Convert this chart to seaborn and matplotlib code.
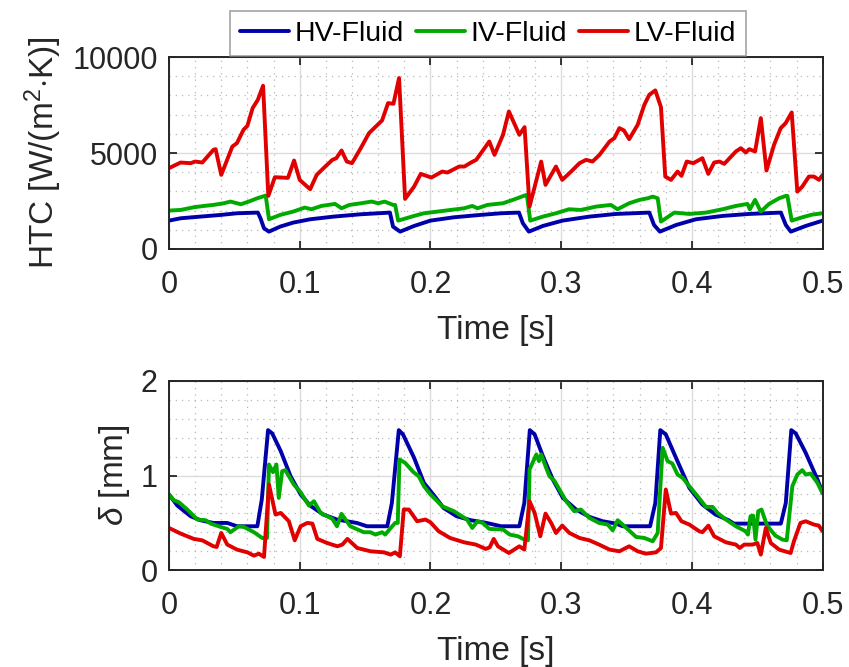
import numpy as np
import pandas as pd
import matplotlib
matplotlib.use("Agg")
import matplotlib.pyplot as plt
from matplotlib.ticker import MultipleLocator
import seaborn as sns

# ---------------- data ----------------
series_names = ["HV-Fluid", "IV-Fluid", "LV-Fluid"]
series_colors = ["#0000AA", "#00AA00", "#E00000"]

# Top panel: HTC [W/(m^2 K)]
htc_hv_t = [0, 0.009, 0.024, 0.0395, 0.052, 0.068, 0.070, 0.0727, 0.0765, 0.085, 0.095, 0.108, 0.126,
            0.1467, 0.169, 0.1714, 0.1768, 0.1875, 0.200, 0.218, 0.238, 0.254, 0.2677, 0.2707, 0.2753,
            0.286, 0.301, 0.3216, 0.342, 0.3674, 0.371, 0.3755, 0.388, 0.403, 0.4234, 0.4438, 0.468,
            0.4718, 0.4756, 0.487, 0.5]
htc_hv_v = [1478, 1600, 1687, 1774, 1861, 1896, 1600, 1078, 904, 1165, 1374, 1548, 1687,
            1809, 1896, 1165, 904, 1200, 1478, 1652, 1774, 1861, 1896, 1339, 904,
            1200, 1478, 1687, 1826, 1896, 1252, 904, 1252, 1548, 1722, 1826, 1896,
            1252, 904, 1200, 1478]

htc_iv_t = [0, 0.009, 0.019, 0.0268, 0.034, 0.042, 0.047, 0.055, 0.061, 0.0676, 0.074, 0.0765, 0.085,
            0.095, 0.1038, 0.109, 0.1166, 0.127, 0.132, 0.138, 0.147, 0.155, 0.160, 0.165, 0.1714,
            0.173, 0.1753, 0.1875, 0.195, 0.2054, 0.2156, 0.2258, 0.232, 0.236, 0.2436, 0.2555, 0.263,
            0.272, 0.2738, 0.2763, 0.286, 0.296, 0.306, 0.315, 0.3267, 0.338, 0.343, 0.352, 0.3598,
            0.3662, 0.370, 0.3738, 0.3763, 0.3865, 0.398, 0.4107, 0.4234, 0.4336, 0.4425, 0.4443,
            0.4483, 0.4527, 0.459, 0.4667, 0.4718, 0.473, 0.4763, 0.4844, 0.492, 0.5]
htc_iv_v = [2000, 2035, 2174, 2243, 2296, 2383, 2470, 2330, 2470, 2643, 2783, 1548, 1774,
            1948, 2157, 2070, 2243, 2348, 2122, 2296, 2383, 2470, 2383, 2470, 2296,
            2296, 1478, 1722, 1861, 1948, 2035, 2122, 2243, 2122, 2296, 2383, 2557,
            2783, 2817, 1478, 1687, 1861, 2070, 2035, 2209, 2296, 2070, 2383, 2557,
            2643, 2730, 2643, 1426, 1896, 1826, 1896, 2070, 2243, 2348, 2070,
            2557, 1948, 2348, 2643, 2765, 2765, 1478, 1652, 1791, 1861]

htc_lv_t = [0, 0.0089, 0.0166, 0.020, 0.0255, 0.034, 0.0357, 0.040, 0.0485, 0.052, 0.057, 0.060, 0.064,
            0.068, 0.072, 0.076, 0.081, 0.091, 0.0957, 0.100, 0.108, 0.113, 0.119, 0.125, 0.128,
            0.132, 0.136, 0.140, 0.1467, 0.153, 0.163, 0.1676, 0.1717, 0.176, 0.1806, 0.1875, 0.1926,
            0.2007, 0.209, 0.213, 0.222, 0.226, 0.231, 0.235, 0.245, 0.249, 0.2555, 0.260, 0.268,
            0.272, 0.2758, 0.2847, 0.288, 0.296, 0.3008, 0.3076, 0.314, 0.319, 0.324, 0.3293, 0.337,
            0.3407, 0.3445, 0.348, 0.352, 0.3585, 0.3636, 0.3674, 0.372, 0.3763, 0.3796, 0.384, 0.389,
            0.392, 0.396, 0.401, 0.408, 0.4125, 0.417, 0.421, 0.4247, 0.4336, 0.4374, 0.4412, 0.4438,
            0.4483, 0.4527, 0.457, 0.4628, 0.4679, 0.4717, 0.4763, 0.4806, 0.4844, 0.4895, 0.4933,
            0.4972, 0.5]
htc_lv_v = [4209, 4504, 4470, 4556, 4504, 5165, 5200, 3861, 5339, 5513, 6209, 6417, 7339,
            7774, 8504, 2765, 3739, 3704, 4609, 3600, 3113, 3861, 4261, 4643, 4730,
            5130, 4556, 4470, 5252, 6035, 6696, 7600, 7565, 8904, 2609, 3252, 3913,
            3722, 4035, 3983, 4296, 4296, 4504, 4643, 5600, 4904, 5948, 7165, 5948,
            6348, 2209, 4556, 3339, 4296, 3600, 4035, 4470, 4643, 4556, 4904, 5600,
            5774, 6296, 6174, 5722, 6470, 7513, 8035, 8261, 7391, 3774, 3600, 4035,
            3809, 4556, 4470, 4730, 3913, 4504, 4556, 4435, 5078, 5252, 5026, 5200,
            5078, 6817, 4087, 5426, 6296, 6557, 7113, 2991, 3252, 3774, 3774,
            3600, 3861]

# Bottom panel: film thickness delta [mm]
del_hv_t = [0, 0.0064, 0.0166, 0.024, 0.034, 0.0446, 0.052, 0.0676, 0.071, 0.0758, 0.079, 0.0855, 0.093,
            0.1007, 0.108, 0.118, 0.1285, 0.1437, 0.1514, 0.167, 0.1705, 0.1758, 0.179, 0.1875, 0.195,
            0.2028, 0.21, 0.22, 0.2309, 0.243, 0.254, 0.268, 0.2718, 0.276, 0.2797, 0.286, 0.2936,
            0.3013, 0.3114, 0.3216, 0.3318, 0.342, 0.347, 0.368, 0.372, 0.3758, 0.380, 0.3878, 0.398,
            0.408, 0.418, 0.428, 0.432, 0.468, 0.4718, 0.476, 0.4794, 0.487, 0.496, 0.5]
del_hv_v = [0.80, 0.682, 0.569, 0.527, 0.498, 0.498, 0.463, 0.463, 0.746, 1.48, 1.445, 1.258, 0.993,
            0.80, 0.682, 0.587, 0.534, 0.498, 0.463, 0.463, 0.71, 1.48, 1.435, 1.187, 0.922,
            0.788, 0.657, 0.569, 0.527, 0.498, 0.463, 0.463, 0.71, 1.48, 1.435, 1.205, 0.958,
            0.763, 0.64, 0.562, 0.516, 0.491, 0.463, 0.463, 0.71, 1.48, 1.435, 1.187, 0.869,
            0.693, 0.587, 0.527, 0.491, 0.491, 0.71, 1.48, 1.445, 1.24, 0.958, 0.816]

del_iv_t = [0, 0.0038, 0.0076, 0.014, 0.0217, 0.028, 0.032, 0.0395, 0.0446, 0.047, 0.0535, 0.0573, 0.065,
            0.0713, 0.075, 0.0765, 0.0796, 0.0822, 0.084, 0.0866, 0.089, 0.0955, 0.1007, 0.107, 0.1109,
            0.116, 0.125, 0.1285, 0.132, 0.1387, 0.149, 0.154, 0.158, 0.163, 0.1654, 0.169, 0.173,
            0.175, 0.1763, 0.1806, 0.187, 0.191, 0.195, 0.200, 0.209, 0.218, 0.228, 0.232, 0.236,
            0.24, 0.245, 0.2555, 0.2606, 0.267, 0.2708, 0.2746, 0.2758, 0.281, 0.283, 0.2847, 0.2885,
            0.291, 0.295, 0.3038, 0.310, 0.315, 0.3216, 0.329, 0.3356, 0.3394, 0.3432, 0.347, 0.3573,
            0.3636, 0.370, 0.3738, 0.3776, 0.3814, 0.385, 0.389, 0.3929, 0.398, 0.4043, 0.4107, 0.4158,
            0.4196, 0.426, 0.4336, 0.441, 0.4428, 0.4448, 0.4468, 0.4486, 0.4507, 0.4532, 0.4575,
            0.4638, 0.4692, 0.4725, 0.4768, 0.4806, 0.4844, 0.487, 0.4908, 0.496, 0.5]
del_iv_v = [0.80, 0.739, 0.717, 0.64, 0.534, 0.527, 0.491, 0.456, 0.435, 0.40, 0.463, 0.456, 0.40,
            0.339, 0.339, 1.117, 1.035, 1.117, 0.763, 1.046, 1.057, 0.905, 0.823, 0.682, 0.728,
            0.604, 0.541, 0.463, 0.594, 0.463, 0.40, 0.40, 0.375, 0.40, 0.375, 0.435, 0.498,
            0.498, 1.17, 1.134, 1.035, 0.993, 0.887, 0.80, 0.675, 0.622, 0.534, 0.445, 0.516,
            0.498, 0.435, 0.428, 0.375, 0.357, 0.329, 0.314, 1.064, 1.223, 1.152, 1.223, 1.081,
            0.993, 0.94, 0.728, 0.622, 0.64, 0.551, 0.498, 0.481, 0.42, 0.527, 0.481, 0.35,
            0.339, 0.304, 0.392, 1.293, 1.152, 1.127, 1.01, 0.975, 0.887, 0.781, 0.668, 0.668,
            0.604, 0.534, 0.463, 0.41, 0.375, 0.569, 0.576, 0.322, 0.622, 0.64, 0.47,
            0.364, 0.322, 0.314, 0.887, 1.01, 1.057, 1.01, 1.021, 0.922, 0.809]

del_lv_t = [0, 0.009, 0.019, 0.0255, 0.034, 0.0365, 0.040, 0.0446, 0.052, 0.060, 0.065, 0.0688, 0.0727,
            0.0765, 0.0815, 0.0855, 0.0917, 0.0962, 0.1007, 0.1058, 0.1097, 0.1135, 0.121, 0.1288,
            0.1326, 0.1365, 0.144, 0.1543, 0.1645, 0.1696, 0.173, 0.1766, 0.1796, 0.1835, 0.1898,
            0.1962, 0.200, 0.2063, 0.215, 0.2258, 0.2347, 0.2423, 0.2453, 0.2484, 0.2516, 0.26, 0.268,
            0.2718, 0.2758, 0.2797, 0.284, 0.288, 0.2926, 0.296, 0.3008, 0.3063, 0.314, 0.3216, 0.329,
            0.337, 0.3445, 0.352, 0.3585, 0.3648, 0.3725, 0.3763, 0.380, 0.384, 0.3878, 0.392, 0.398,
            0.4056, 0.408, 0.4126, 0.417, 0.426, 0.4336, 0.4366, 0.44, 0.4463, 0.45, 0.4527, 0.4565,
            0.4603, 0.4667, 0.4755, 0.478, 0.483, 0.487, 0.4933, 0.497, 0.5]
del_lv_v = [0.445, 0.385, 0.329, 0.314, 0.251, 0.244, 0.392, 0.269, 0.216, 0.187, 0.152, 0.173, 0.138,
            0.905, 0.587, 0.604, 0.516, 0.314, 0.463, 0.498, 0.491, 0.329, 0.286, 0.251,
            0.269, 0.329, 0.233, 0.198, 0.187, 0.163, 0.187, 0.145, 0.64, 0.64, 0.516,
            0.534, 0.505, 0.41, 0.339, 0.293, 0.269, 0.223, 0.24, 0.329, 0.251, 0.18, 0.251,
            0.216, 0.728, 0.604, 0.357, 0.597, 0.491, 0.392, 0.47, 0.392, 0.339, 0.314, 0.269,
            0.216, 0.198, 0.251, 0.198, 0.173, 0.187, 0.233, 0.852, 0.597, 0.604, 0.516, 0.481,
            0.41, 0.40, 0.47, 0.357, 0.293, 0.269, 0.233, 0.269, 0.269, 0.286, 0.163, 0.445,
            0.286, 0.216, 0.18, 0.304, 0.498, 0.516, 0.481, 0.47, 0.41]

xticks = [0, 0.1, 0.2, 0.3, 0.4, 0.5]
htc_yticks = [0, 5000, 10000]
del_yticks = [0, 1, 2]

# ---------------- style ----------------
sns.set_style("ticks")
plt.rcParams["font.family"] = ["Liberation Sans", "DejaVu Sans"]
plt.rcParams["mathtext.fontset"] = "custom"
plt.rcParams["mathtext.rm"] = "Liberation Sans"
plt.rcParams["mathtext.it"] = "Liberation Sans:italic"
plt.rcParams["axes.unicode_minus"] = False

fig = plt.figure(figsize=(8.49, 6.67), dpi=100)
ax1 = fig.add_axes([0.199, 0.6267, 0.770, 0.2878])
ax2 = fig.add_axes([0.199, 0.1454, 0.770, 0.2834])

top_data = [(htc_hv_t, htc_hv_v), (htc_iv_t, htc_iv_v), (htc_lv_t, htc_lv_v)]
bot_data = [(del_hv_t, del_hv_v), (del_iv_t, del_iv_v), (del_lv_t, del_lv_v)]

for (t, v), name, c in zip(top_data, series_names, series_colors):
    df = pd.DataFrame({"t": t, "v": v})
    sns.lineplot(data=df, x="t", y="v", ax=ax1, color=c, lw=2.8, label=name,
                 estimator=None, sort=False)
for (t, v), name, c in zip(bot_data, series_names, series_colors):
    df = pd.DataFrame({"t": t, "v": v})
    sns.lineplot(data=df, x="t", y="v", ax=ax2, color=c, lw=2.8, legend=False,
                 estimator=None, sort=False)

TXT = "#262626"

def style_axes(ax, yticks, yminor, ylabel):
    ax.set_xlim(0, 0.5)
    ax.set_ylim(yticks[0], yticks[-1])
    ax.set_xticks(xticks)
    ax.set_xticklabels(["0" if x == 0 else f"{x:g}" for x in xticks])
    ax.set_yticks(yticks)
    ax.set_yticklabels([f"{y:g}" for y in yticks])
    ax.xaxis.set_minor_locator(MultipleLocator(0.02))
    ax.yaxis.set_minor_locator(MultipleLocator(yminor))
    ax.grid(True, which="major", color="#dcdcdc", lw=1.0, ls="-")
    ax.grid(True, which="minor", color="#b8b8b8", lw=0.9, ls=(0, (1, 4)))
    ax.set_axisbelow(True)
    ax.tick_params(which="major", direction="in", length=6, width=1.3, top=True, right=True,
                   labelsize=22, colors=TXT, labelcolor=TXT)
    ax.tick_params(axis="x", which="major", pad=15)
    ax.tick_params(axis="y", which="major", pad=8)
    ax.tick_params(which="minor", length=0, top=True, right=True)
    for s in ax.spines.values():
        s.set_color(TXT)
        s.set_linewidth(1.4)
    ax.set_xlabel("Time [s]", fontsize=24, labelpad=11, color=TXT)
    ax.set_ylabel(ylabel, fontsize=24, labelpad=6, color=TXT)

style_axes(ax1, htc_yticks, 1000, "HTC [W/(m$^2$$\\cdot$K)]")
style_axes(ax2, del_yticks, 0.2, "$\\delta$ [mm]")

handles, labels = ax1.get_legend_handles_labels()
ax1.legend_.remove()
leg = fig.legend(handles, labels, loc="upper center", bbox_to_anchor=(0.575, 0.9835), ncol=3,
                 fontsize=20.5, frameon=True, fancybox=False, edgecolor="#8c8c8c",
                 handlelength=1.72, handletextpad=0.2, columnspacing=0.42, borderpad=0.34,
                 borderaxespad=0.0, labelcolor="black")
leg.get_frame().set_linewidth(1.2)

fig.savefig("out.png", dpi=100, facecolor="white")
